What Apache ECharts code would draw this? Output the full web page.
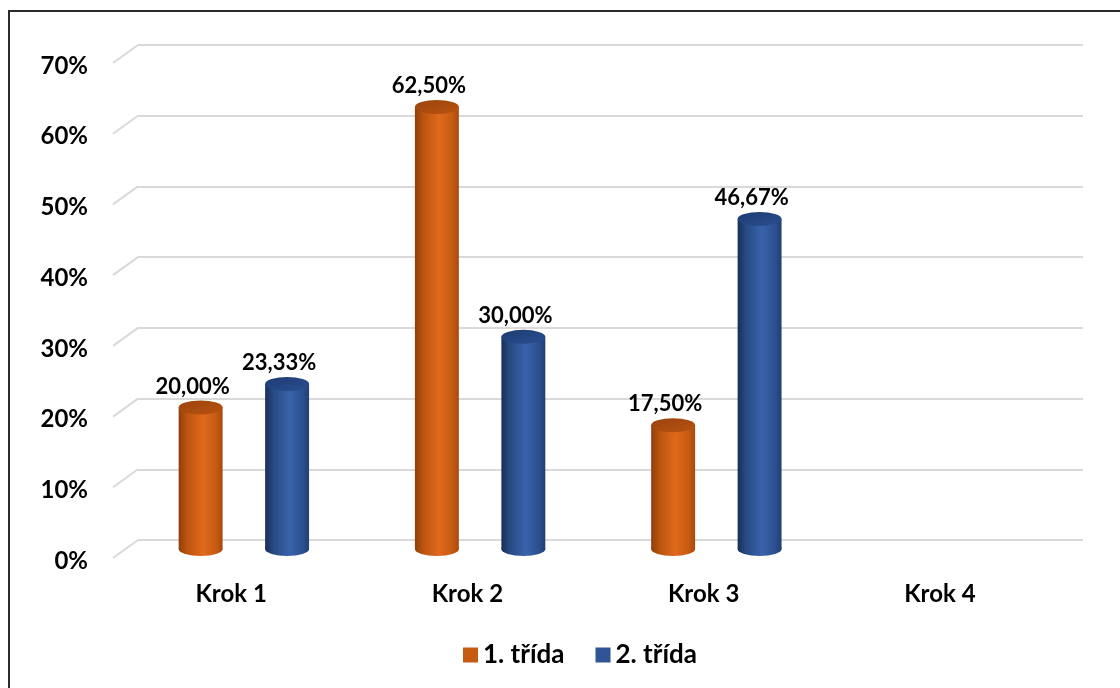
<!DOCTYPE html>
<html>
<head>
<meta charset="utf-8">
<script src="https://cdn.jsdelivr.net/npm/echarts@6/dist/echarts.min.js"></script>
<style>
  html, body { margin: 0; padding: 0; background: #fff; }
  #chart { width: 1120px; height: 688px; }
</style>
</head>
<body>
<div id="chart"></div>
<script>
// Categories, series values (in %) and y-axis ticks
const categories = ['Krok 1', 'Krok 2', 'Krok 3', 'Krok 4'];
const trida1 = [20.00, 62.50, 17.50, null];
const trida2 = [23.33, 30.00, 46.67, null];
const yTicks = [0, 10, 20, 30, 40, 50, 60, 70];
const seriesNames = ['1. třída', '2. třída'];

// Depth of the pseudo-3D floor: the front plane sits left/down of the back wall
const DX = 25, DY = 18;
const FONT = 'Lato, "Open Sans", sans-serif';

const ORANGE = {
  legend: '#c55a11',
  top: ['#9a440f', '#b9520f'],
  body: [
    { offset: 0, color: '#8e3e0b' },
    { offset: 0.18, color: '#b9530f' },
    { offset: 0.55, color: '#e0691b' },
    { offset: 0.85, color: '#c65b13' },
    { offset: 1, color: '#a9490d' }
  ]
};
const BLUE = {
  legend: '#2f5597',
  top: ['#1d3b72', '#2a4f90'],
  body: [
    { offset: 0, color: '#172f5c' },
    { offset: 0.18, color: '#27497f' },
    { offset: 0.55, color: '#3963ab' },
    { offset: 0.85, color: '#2c5090' },
    { offset: 1, color: '#213f75' }
  ]
};

function fmtPct(v) {
  return v.toFixed(2).replace('.', ',') + '%';
}

// Cylinder bar drawn at mid-depth of the floor
function cylinder(palette, shift) {
  return function (params, api) {
    const v = api.value(1);
    if (v == null || isNaN(v)) return null;
    const cat = api.value(0);
    const base = api.coord([cat, 0]);
    const top = api.coord([cat, v]);
    const band = api.size([1, 0])[0];
    const cx = base[0] - DX / 2 + shift * band;
    const yb = base[1] + DY / 2;
    const yt = top[1] + DY / 2;
    const rx = band * 0.093;
    const ry = 7;
    const bodyFill = () => new echarts.graphic.LinearGradient(0, 0, 1, 0, palette.body);
    return {
      type: 'group',
      children: [
        {
          type: 'rect',
          shape: { x: cx - rx, y: yt, width: 2 * rx, height: yb - yt },
          style: { fill: bodyFill() }
        },
        {
          type: 'circle',
          x: cx, y: yb, scaleY: ry / rx,
          shape: { cx: 0, cy: 0, r: rx },
          style: { fill: bodyFill() }
        },
        {
          type: 'circle',
          x: cx, y: yt, scaleY: ry / rx,
          shape: { cx: 0, cy: 0, r: rx },
          style: {
            fill: new echarts.graphic.LinearGradient(0, 0, 1, 1, [
              { offset: 0, color: palette.top[0] },
              { offset: 1, color: palette.top[1] }
            ])
          }
        },
        {
          type: 'text',
          x: cx - 8, y: yt - 10,
          style: {
            text: fmtPct(v),
            fill: '#000',
            font: 'bold 22px ' + FONT,
            align: 'center',
            verticalAlign: 'bottom'
          }
        }
      ]
    };
  };
}

// Diagonal floor lines joining the front ticks with the back gridlines
function floorLines(params, api) {
  const y = api.coord([0, api.value(1)])[1];
  const x0 = params.coordSys.x;
  return {
    type: 'line',
    shape: { x1: x0 - DX, y1: y + DY, x2: x0, y2: y },
    style: { stroke: '#d9d9d9', lineWidth: 2 }
  };
}

const chart = echarts.init(document.getElementById('chart'));
chart.setOption({
  animation: false,
  backgroundColor: '#fff',
  graphic: [{
    type: 'rect',
    shape: { x: 9, y: 11, width: 1140, height: 700 },
    style: { fill: 'none', stroke: '#2b2b2b', lineWidth: 2 },
    z: 100
  }],
  legend: {
    data: seriesNames,
    bottom: 15,
    left: 458,
    icon: 'rect',
    itemWidth: 15,
    itemHeight: 15,
    itemGap: 31,
    textStyle: { fontFamily: FONT, fontWeight: 'bold', fontSize: 26, color: '#000' }
  },
  grid: [
    { left: 138, right: 37, top: 45, bottom: 148 },   // back wall
    { left: 113, right: 62, top: 66, bottom: 127 }    // front plane (labels)
  ],
  xAxis: [
    {
      gridIndex: 0, type: 'category', data: categories,
      axisLine: { show: false }, axisTick: { show: false }, axisLabel: { show: false }
    },
    {
      gridIndex: 1, type: 'category', data: categories,
      axisLine: { show: false }, axisTick: { show: false },
      axisLabel: { margin: 21, fontFamily: FONT, fontWeight: 'bold', fontSize: 24, color: '#000' }
    }
  ],
  yAxis: [
    {
      gridIndex: 0, type: 'value', min: 0, max: 70, interval: 10,
      axisLine: { show: false }, axisTick: { show: false }, axisLabel: { show: false },
      splitLine: { lineStyle: { color: '#d9d9d9', width: 2 } }
    },
    {
      gridIndex: 1, type: 'value', min: 0, max: 70, interval: 10,
      axisLine: { show: false }, axisTick: { show: false }, splitLine: { show: false },
      axisLabel: {
        margin: 25, formatter: '{value}%',
        fontFamily: FONT, fontWeight: 'bold', fontSize: 24, color: '#000'
      }
    }
  ],
  series: [
    {
      type: 'custom', xAxisIndex: 0, yAxisIndex: 0, silent: true,
      renderItem: floorLines,
      data: yTicks.map(t => [0, t]),
      z: 1
    },
    {
      name: seriesNames[0], type: 'custom', xAxisIndex: 0, yAxisIndex: 0,
      itemStyle: { color: ORANGE.legend },
      renderItem: cylinder(ORANGE, -0.182),
      data: trida1.map((v, i) => [i, v]),
      z: 5
    },
    {
      name: seriesNames[1], type: 'custom', xAxisIndex: 0, yAxisIndex: 0,
      itemStyle: { color: BLUE.legend },
      renderItem: cylinder(BLUE, 0.184),
      data: trida2.map((v, i) => [i, v]),
      z: 5
    }
  ]
});
</script>
</body>
</html>
